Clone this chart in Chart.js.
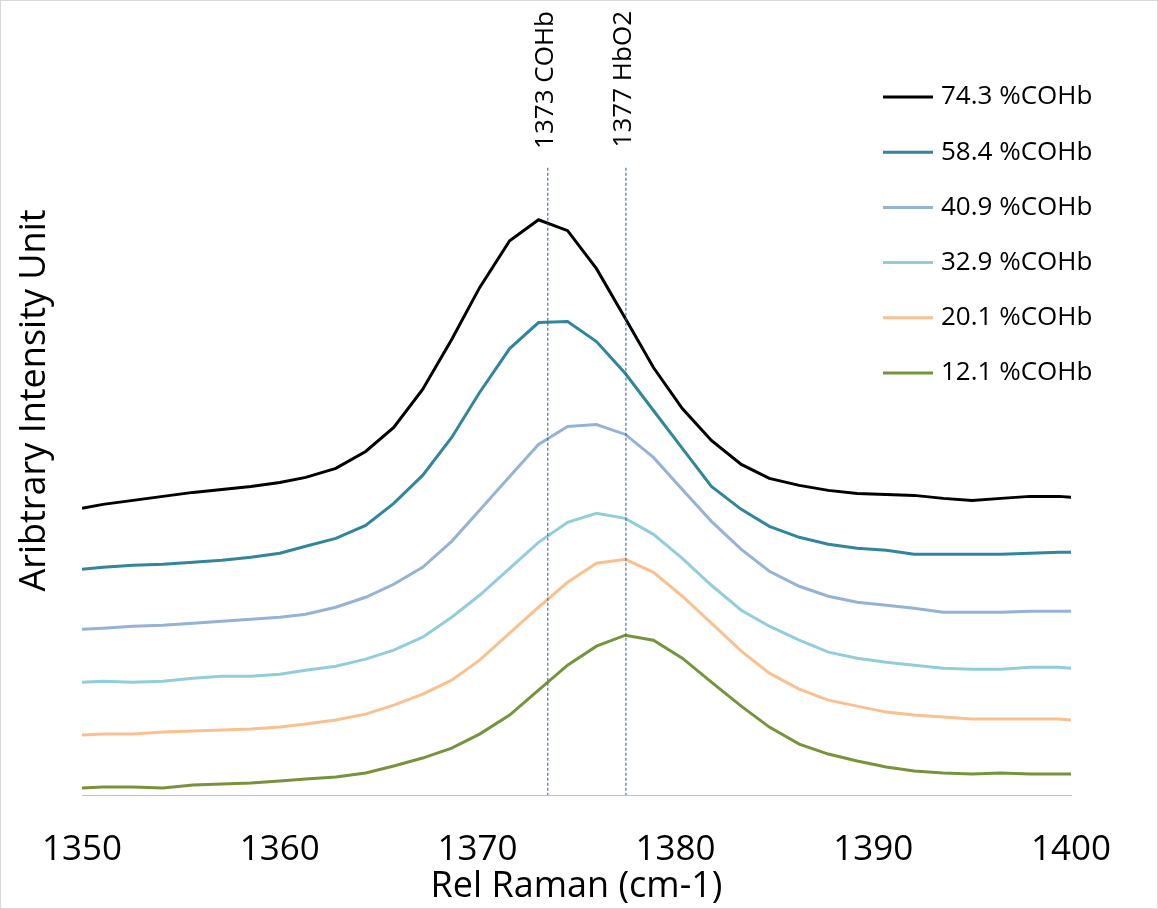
<!DOCTYPE html>
<html>
<head>
<meta charset="utf-8">
<script src="https://cdn.jsdelivr.net/npm/chart.js@4"></script>
<style>
  html, body { margin: 0; padding: 0; background: #fff; }
  #wrap { width: 1158px; height: 909px; position: relative; box-sizing: border-box; border: 1px solid #d9d9d9; }
</style>
</head>
<body>
<div id="wrap"><canvas id="raman"></canvas></div>
<script>
// Raman shift positions (cm-1)
const shifts = [1350, 1351.06, 1352.58, 1354.09, 1355.61, 1357.07, 1358.54, 1360.0, 1361.31, 1362.83,
  1364.34, 1365.76, 1367.22, 1368.69, 1370.1, 1371.62, 1373.08, 1374.55, 1376.01, 1377.47,
  1378.89, 1380.35, 1381.82, 1383.33, 1384.75, 1386.26, 1387.73, 1389.19, 1390.66, 1392.07,
  1393.54, 1395.0, 1396.46, 1397.93, 1399.39, 1400];

// intensities, arbitrary units (stacked with offsets)
const coHb743 = [287, 291, 295, 299, 303, 306, 309, 313, 318, 327, 344, 368, 406, 456, 508, 555, 576, 565, 527, 477,
  428, 387, 355, 331, 317, 310, 305, 302, 301, 300, 297, 295, 297, 299, 299, 298];
const coHb584 = [226, 228, 230, 231, 233, 235, 238, 242, 249, 257, 270, 292, 320, 358, 403, 447, 473, 474, 454, 422,
  385, 347, 309, 286, 269, 258, 251, 247, 245, 241, 241, 241, 241, 242, 243, 243];
const coHb409 = [166, 167, 169, 170, 172, 174, 176, 178, 181, 188, 198, 211, 228, 254, 285, 319, 351, 369, 371, 361,
  338, 306, 274, 246, 224, 209, 199, 193, 190, 187, 183, 183, 183, 184, 184, 184];
const coHb329 = [113, 114, 113, 114, 117, 119, 119, 121, 125, 129, 136, 145, 158, 178, 200, 227, 253, 273, 282, 277,
  261, 237, 210, 185, 169, 155, 143, 137, 133, 130, 127, 126, 126, 128, 128, 127];
const coHb201 = [60, 61, 61, 63, 64, 65, 66, 68, 71, 75, 81, 90, 101, 115, 135, 162, 188, 213, 232, 236,
  223, 199, 172, 144, 122, 106, 95, 89, 83, 80, 78, 76, 76, 76, 76, 75];
const coHb121 = [7, 8, 8, 7, 10, 11, 12, 14, 16, 18, 22, 29, 37, 47, 61, 80, 105, 130, 149, 160,
  155, 137, 113, 89, 68, 51, 41, 34, 28, 24, 22, 21, 22, 21, 21, 21];

const seriesNames = ['74.3 %COHb', '58.4 %COHb', '40.9 %COHb', '32.9 %COHb', '20.1 %COHb', '12.1 %COHb'];
const seriesColors = ['#000000', '#31859C', '#95B3D7', '#92CDDC', '#FAC090', '#77933C'];
const seriesData = [coHb743, coHb584, coHb409, coHb329, coHb201, coHb121];

const markers = [{ x: 1373.55, label: '1373 COHb' }, { x: 1377.5, label: '1377 HbO2' }];

const FONT = '"Open Sans", "Noto Sans", sans-serif';

const datasets = seriesData.map(function (vals, i) {
  return {
    label: seriesNames[i],
    data: shifts.map(function (x, j) { return { x: x, y: vals[j] }; }),
    borderColor: seriesColors[i],
    borderWidth: 3,
    pointRadius: 0,
    tension: 0,
    fill: false
  };
});

const overlay = {
  id: 'overlay',
  afterDatasetsDraw(chart) {
    const ctx = chart.ctx;
    const xs = chart.scales.x, ys = chart.scales.y;
    ctx.save();
    // marker lines
    markers.forEach(function (m) {
      const px = xs.getPixelForValue(m.x);
      ctx.strokeStyle = '#2F5597';
      ctx.lineWidth = 1;
      ctx.setLineDash([3, 2]);
      ctx.beginPath();
      ctx.moveTo(px, ys.getPixelForValue(628));
      ctx.lineTo(px, ys.bottom);
      ctx.stroke();
      ctx.setLineDash([]);
      ctx.save();
      ctx.translate(px - 2, 10);
      ctx.rotate(-Math.PI / 2);
      ctx.fillStyle = '#000';
      ctx.font = '26px ' + FONT;
      ctx.textAlign = 'right';
      ctx.textBaseline = 'middle';
      ctx.fillText(m.label, 0, 0);
      ctx.restore();
    });
    // legend
    seriesNames.forEach(function (name, i) {
      const y = 96 + i * 55.2;
      ctx.strokeStyle = seriesColors[i];
      ctx.lineWidth = 3;
      ctx.beginPath();
      ctx.moveTo(882, y);
      ctx.lineTo(932, y);
      ctx.stroke();
      ctx.fillStyle = '#000';
      ctx.font = '26px ' + FONT;
      ctx.textAlign = 'left';
      ctx.textBaseline = 'middle';
      ctx.fillText(name, 940, y);
    });
    ctx.restore();
  }
};

new Chart(document.getElementById('raman'), {
  type: 'line',
  data: { datasets: datasets },
  plugins: [overlay],
  options: {
    responsive: true,
    maintainAspectRatio: false,
    animation: false,
    layout: { padding: { top: 5, right: 86, left: 0, bottom: 0 } },
    plugins: { legend: { display: false }, tooltip: { enabled: false } },
    scales: {
      x: {
        type: 'linear',
        min: 1350,
        max: 1400,
        afterFit(scale) { scale.height = 113; },
        grid: { display: false, drawOnChartArea: false, drawTicks: true, tickLength: 8, color: '#bfbfbf' },
        border: { color: '#bfbfbf', width: 1 },
        ticks: { stepSize: 10, padding: 26, color: '#000', font: { size: 35, family: FONT }, callback: function (v) { return String(v); } },
        title: { display: true, text: 'Rel Raman (cm-1)', color: '#000', padding: { top: 0, bottom: 0 }, font: { size: 36, family: FONT } }
      },
      y: {
        min: 0,
        max: 790,
        afterFit(scale) { scale.width = 81; },
        grid: { display: false },
        border: { display: false },
        ticks: { display: false },
        title: { display: true, text: 'Aribtrary Intensity Unit', color: '#000', padding: { top: 12, bottom: 22 }, font: { size: 36, family: FONT } }
      }
    }
  }
});
</script>
</body>
</html>
